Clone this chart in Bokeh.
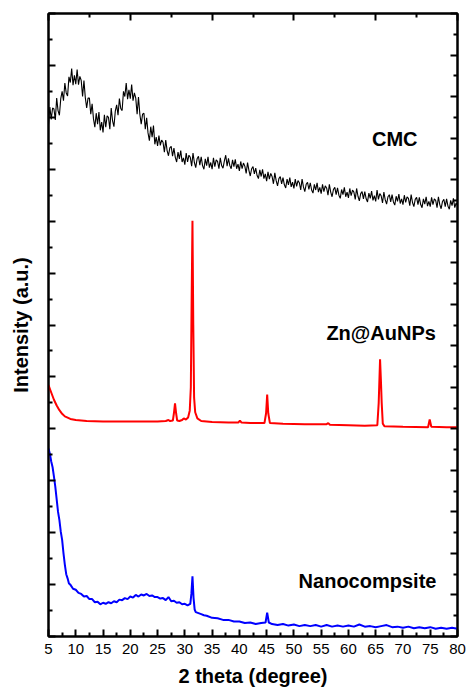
from bokeh.plotting import figure
from bokeh.models import Range1d, LinearAxis, FixedTicker, ColumnDataSource, CustomJSTickFormatter
from bokeh.core.properties import value
from bokeh.embed import file_html
from bokeh.resources import INLINE

# ---------------- data ----------------
# CMC: intensities every 0.25 degree from 5 to 80 (one row per degree)
cmc_rows = [
    [9.86, 10.20, 9.96, 10.18], [10.16, 9.95, 10.37, 10.13], [10.04, 10.36, 10.50, 10.32],
    [10.66, 10.47, 10.41, 10.78], [10.67, 10.94, 10.62, 10.81], [10.64, 10.92, 10.63, 10.79],
    [10.71, 10.40, 10.71, 10.38], [10.18, 10.37, 10.37, 10.06], [10.26, 9.97, 9.81, 10.08],
    [9.87, 10.10, 9.75, 9.91], [9.71, 10.05, 9.81, 10.03], [10.00, 9.77, 10.18, 9.93],
    [9.82, 10.12, 10.24, 10.04], [10.36, 10.17, 10.13, 10.50], [10.40, 10.66, 10.35, 10.53],
    [10.36, 10.63, 10.32, 10.47], [10.37, 10.06, 10.39, 10.06], [9.87, 10.06, 10.08, 9.77],
    [9.99, 9.70, 9.55, 9.82], [9.62, 9.84, 9.48, 9.62],
    [9.45, 9.65, 9.46, 9.56], [9.52, 9.33, 9.56, 9.36], [9.26, 9.41, 9.44, 9.25],
    [9.41, 9.23, 9.14, 9.33], [9.20, 9.36, 9.14, 9.22], [9.09, 9.31, 9.14, 9.27],
    [9.23, 9.06, 9.31, 9.13], [9.03, 9.20, 9.25, 9.08], [9.24, 9.07, 9.00, 9.20],
    [9.07, 9.24, 9.03, 9.13], [9.00, 9.22, 9.05, 9.18],
    [9.15, 9.01, 9.22, 9.07], [9.02, 9.16, 9.27, 9.06], [9.21, 9.07, 9.01, 9.18],
    [9.05, 9.19, 9.01, 9.10], [8.97, 9.15, 9.01, 9.12], [9.06, 8.92, 9.13, 8.98],
    [8.87, 9.01, 9.05, 8.91], [9.02, 8.88, 8.82, 8.99], [8.86, 9.00, 8.82, 8.91],
    [8.77, 8.95, 8.81, 8.92], [8.86, 8.72, 8.93, 8.78], [8.68, 8.82, 8.86, 8.72],
    [8.84, 8.70, 8.64, 8.81], [8.70, 8.84, 8.66, 8.75], [8.63, 8.81, 8.67, 8.78],
    [8.74, 8.60, 8.81, 8.66], [8.57, 8.71, 8.75, 8.61], [8.74, 8.60, 8.54, 8.71],
    [8.60, 8.74, 8.56, 8.65], [8.53, 8.71, 8.57, 8.68], [8.64, 8.50, 8.71, 8.56],
    [8.47, 8.61, 8.65, 8.51], [8.64, 8.50, 8.44, 8.61], [8.51, 8.65, 8.47, 8.56],
    [8.45, 8.63, 8.49, 8.60], [8.56, 8.42, 8.63, 8.48], [8.39, 8.53, 8.57, 8.43],
    [8.57, 8.43, 8.37, 8.54], [8.44, 8.58, 8.40, 8.49], [8.38, 8.60, 8.42, 8.53],
    [8.49, 8.35, 8.56, 8.41], [8.33, 8.47, 8.51, 8.37], [8.51, 8.37, 8.31, 8.48],
    [8.38, 8.52, 8.34, 8.43], [8.32, 8.50, 8.36, 8.47], [8.44, 8.30, 8.51, 8.36],
    [8.28, 8.42, 8.46, 8.32], [8.46, 8.32, 8.26, 8.43], [8.33, 8.47, 8.29, 8.38],
    [8.28, 8.46, 8.32, 8.43], [8.40, 8.26, 8.47, 8.32], [8.24, 8.38, 8.42, 8.28],
    [8.43, 8.29, 8.23, 8.40], [8.30, 8.44, 8.26, 8.35],
]
cmc_last = 8.30

zn_x = [5.0, 5.5, 6.0, 6.5, 7.0, 7.5, 8.0, 9.0, 10.0, 12.0, 15.0, 18.0, 20.0, 22.0, 25.0,
        26.5, 27.0, 27.3, 27.8, 28.0, 28.2, 28.4, 28.6, 29.0, 29.5, 29.8, 30.2, 30.6, 30.9,
        31.1, 31.25, 31.4, 31.55, 31.7, 31.9, 32.3, 33.0, 35.0, 38.0, 39.8, 40.1, 40.4, 42.0,
        44.6, 44.9, 45.1, 45.3, 45.6, 48.0, 52.0, 56.0, 56.3, 56.6, 60.0, 63.0, 65.3, 65.55,
        65.8, 65.95, 66.1, 66.3, 66.6, 70.0, 74.6, 74.9, 75.2, 78.0, 80.0]
zn_y = [4.84, 4.70, 4.56, 4.45, 4.36, 4.29, 4.24, 4.19, 4.17, 4.15, 4.14, 4.14, 4.14, 4.14, 4.14,
        4.15, 4.17, 4.15, 4.16, 4.30, 4.49, 4.30, 4.16, 4.15, 4.17, 4.20, 4.18, 4.22, 4.35,
        4.80, 6.50, 8.01, 6.00, 4.60, 4.32, 4.20, 4.15, 4.13, 4.12, 4.12, 4.16, 4.12, 4.11,
        4.11, 4.30, 4.66, 4.30, 4.11, 4.10, 4.09, 4.09, 4.11, 4.08, 4.07, 4.06, 4.07, 4.50,
        5.34, 4.95, 4.50, 4.10, 4.05, 4.04, 4.03, 4.18, 4.04, 4.03, 4.03]

nano_x = [5.0, 5.25, 5.5, 5.75, 6.0, 6.25, 6.5, 6.75, 7.0, 7.25, 7.5, 7.75, 8.0, 8.25, 8.5, 8.75,
          9.0, 9.5, 10, 10.5, 11, 11.5, 12, 12.5, 13, 13.5, 14, 14.5, 15, 15.5, 16, 16.5, 17, 17.5,
          18, 18.5, 19, 19.5, 20, 20.5, 21, 21.5, 22, 22.5, 23, 23.5, 24, 24.5, 25, 25.5, 26, 26.5,
          27, 27.5, 28, 28.5, 29, 29.5, 30, 30.5, 31, 31.2, 31.4, 31.6, 31.8, 32, 32.5, 33, 33.5,
          34, 35, 36, 37, 38, 39, 40, 41, 42, 43, 44, 44.8, 45.1, 45.4, 46, 47, 48, 49, 50, 51, 52,
          53, 54, 55, 56, 57, 58, 59, 60, 61, 62, 63, 64, 65, 66, 67, 68, 69, 70, 71, 72, 73, 74,
          75, 76, 77, 78, 79, 80]
nano_y = [3.62, 3.52, 3.37, 3.26, 3.08, 2.88, 2.64, 2.40, 2.24, 2.02, 1.86, 1.60, 1.38, 1.20, 1.12, 1.02,
          1.00, 0.92, 0.90, 0.84, 0.82, 0.77, 0.78, 0.72, 0.72, 0.66, 0.67, 0.62, 0.65, 0.63, 0.66, 0.64, 0.68, 0.66,
          0.71, 0.70, 0.74, 0.72, 0.77, 0.75, 0.80, 0.77, 0.81, 0.79, 0.82, 0.78, 0.79, 0.76, 0.76, 0.73, 0.74, 0.70,
          0.76, 0.68, 0.69, 0.65, 0.66, 0.62, 0.63, 0.60, 0.63, 0.82, 1.16, 0.74, 0.52, 0.47, 0.45, 0.43, 0.41,
          0.40, 0.36, 0.35, 0.32, 0.32, 0.29, 0.29, 0.26, 0.27, 0.24, 0.26, 0.27, 0.46, 0.27, 0.24, 0.22, 0.24, 0.21, 0.23, 0.20, 0.22,
          0.20, 0.22, 0.19, 0.22, 0.19, 0.21, 0.19, 0.21, 0.19, 0.23, 0.19, 0.20, 0.18, 0.20, 0.22, 0.18, 0.19, 0.17, 0.19, 0.16, 0.18, 0.16,
          0.18, 0.15, 0.17, 0.15, 0.17, 0.15]

label_text = ["CMC", "Zn@AuNPs", "Nanocompsite"]
label_x = [68.5, 66.0, 63.5]
label_y = [9.59, 5.84, 1.06]

bottom_ticks = list(range(5, 81, 5))
top_ticks = [5, 20, 35, 50, 65, 80]

# ---------------- build ----------------
cmc_y = [v for row in cmc_rows for v in row] + [cmc_last]
cmc_x = [5 + 0.25 * i for i in range(len(cmc_y))]

FONT = "Liberation Sans"

p = figure(width=468, height=691, x_range=Range1d(5, 80), y_range=Range1d(0, 12),
           output_backend="svg", toolbar_location=None,
           x_axis_location=None, y_axis_location=None,
           min_border_left=48, min_border_right=11, min_border_top=13, min_border_bottom=55)
p.xgrid.grid_line_color = None
p.ygrid.grid_line_color = None
p.outline_line_color = "black"
p.outline_line_width = 2
p.background_fill_color = "white"
p.border_fill_color = "white"

blank = CustomJSTickFormatter(code="return '';")


def style(ax, show_labels=False):
    ax.axis_line_width = 2
    ax.axis_line_color = "black"
    ax.major_tick_in = 7
    ax.major_tick_out = 0
    ax.minor_tick_in = 4
    ax.minor_tick_out = 0
    ax.major_tick_line_width = 2
    ax.minor_tick_line_width = 2
    ax.major_tick_line_color = "black"
    ax.minor_tick_line_color = "black"
    if not show_labels:
        ax.formatter = blank
        ax.major_label_standoff = 0
    ax.axis_label_text_font = FONT
    ax.axis_label_text_font_style = "bold"
    ax.axis_label_text_font_size = "20px"
    ax.axis_label_text_color = "black"


bottom = LinearAxis(ticker=FixedTicker(ticks=bottom_ticks,
                                       minor_ticks=[t + 2.5 for t in bottom_ticks[:-1]]),
                    axis_label="2 theta (degree)")
style(bottom, show_labels=True)
bottom.major_label_text_font = FONT
bottom.major_label_text_font_size = "15px"
bottom.major_label_text_color = "black"
bottom.major_label_standoff = 7
bottom.axis_label_standoff = 8
p.add_layout(bottom, "below")

top = LinearAxis(ticker=FixedTicker(ticks=top_ticks,
                                    minor_ticks=[t + 7.5 for t in top_ticks[:-1]]))
style(top)
p.add_layout(top, "above")

left = LinearAxis(ticker=FixedTicker(ticks=list(range(0, 13)),
                                     minor_ticks=[i + 0.5 for i in range(12)]),
                  axis_label="Intensity (a.u.)")
style(left)
left.axis_label_standoff = 17
p.add_layout(left, "left")

right = LinearAxis(ticker=FixedTicker(ticks=[0.8 * k for k in range(16)],
                                      minor_ticks=[0.4 + 0.8 * k for k in range(15)]))
style(right)
p.add_layout(right, "right")

p.line(cmc_x, cmc_y, line_color="black", line_width=1.1)
p.line(zn_x, zn_y, line_color="#ff0000", line_width=2)
p.line(nano_x, nano_y, line_color="#0000ff", line_width=2)

src = ColumnDataSource(dict(x=label_x, y=label_y, t=label_text))
p.text(x="x", y="y", text="t", source=src, text_font=value(FONT), text_font_style="bold",
       text_font_size="20px", text_align="center", text_baseline="middle", text_color="black")

open("out.html", "w").write(file_html(p, INLINE))
